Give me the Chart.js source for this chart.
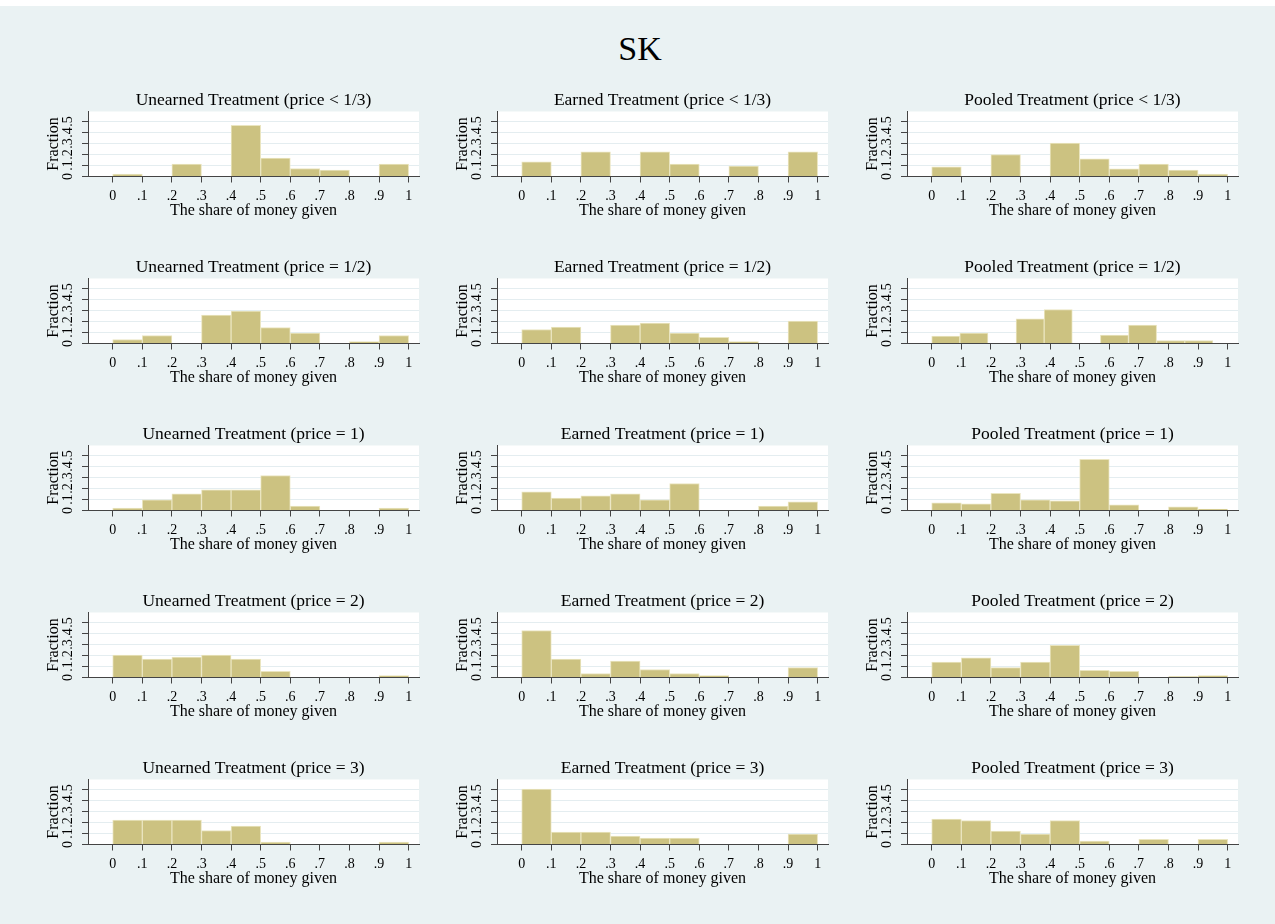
<!DOCTYPE html>
<html>
<head>
<meta charset="utf-8">
<title>SK</title>
<script src="https://cdn.jsdelivr.net/npm/chart.js@4.4.1/dist/chart.umd.min.js"></script>
<style>
  html, body { margin: 0; padding: 0; background: #ffffff; }
  body { position: relative; width: 1275px; height: 924px; overflow: hidden; }
  #bg { position: absolute; left: 0; top: 6px; width: 1275px; height: 918px; background: #eaf2f3; }
  #mainTitle { position: absolute; left: 0; width: 1280px; top: 31.5px; text-align: center;
               font: 34px/34px "Liberation Serif", "Times New Roman", serif; color: #000; }
  canvas { position: absolute; }
</style>
</head>
<body>
<div id="bg"></div>
<div id="mainTitle">SK</div>

<script>
// Panel headings
const treatments = ['Unearned Treatment', 'Earned Treatment', 'Pooled Treatment'];
const prices = ['< 1/3', '= 1/2', '= 1', '= 2', '= 3'];

// Histogram bin edges (share of money given)
const binEdges = [0, 0.1, 0.2, 0.3, 0.4, 0.5, 0.6, 0.7, 0.8, 0.9, 1.0];
const binEdgesPooledHalf = [0, 0.095, 0.19, 0.285, 0.38, 0.475, 0.57, 0.665, 0.76, 0.855, 0.95];

// Axis ticks
const xTickValues = [0, 0.1, 0.2, 0.3, 0.4, 0.5, 0.6, 0.7, 0.8, 0.9, 1];
const xTickLabels = ['0', '.1', '.2', '.3', '.4', '.5', '.6', '.7', '.8', '.9', '1'];
const yTickValues = [0, 0.1, 0.2, 0.3, 0.4, 0.5];
const yTickLabels = ['0', '.1', '.2', '.3', '.4', '.5'];

// Fractions per bin — Unearned
const unearnedThird = [0.021, 0, 0.112, 0, 0.464, 0.167, 0.073, 0.058, 0, 0.112];
const unearnedHalf  = [0.036, 0.073, 0, 0.258, 0.294, 0.145, 0.094, 0, 0.018, 0.073];
const unearnedOne   = [0.021, 0.097, 0.152, 0.188, 0.188, 0.318, 0.039, 0, 0, 0.021];
const unearnedTwo   = [0.203, 0.167, 0.185, 0.203, 0.167, 0.055, 0, 0, 0, 0.018];
const unearnedThree = [0.221, 0.221, 0.221, 0.127, 0.167, 0.021, 0, 0, 0, 0.021];

// Fractions per bin — Earned
const earnedThird = [0.133, 0, 0.224, 0, 0.224, 0.112, 0, 0.094, 0, 0.224];
const earnedHalf  = [0.127, 0.148, 0, 0.167, 0.185, 0.094, 0.055, 0.018, 0, 0.203];
const earnedOne   = [0.170, 0.112, 0.133, 0.152, 0.097, 0.245, 0, 0, 0.039, 0.079];
const earnedTwo   = [0.427, 0.167, 0.036, 0.148, 0.073, 0.036, 0.018, 0, 0, 0.091];
const earnedThree = [0.503, 0.112, 0.112, 0.076, 0.058, 0.058, 0, 0, 0, 0.094];

// Fractions per bin — Pooled
const pooledThird = [0.088, 0, 0.200, 0, 0.303, 0.160, 0.070, 0.112, 0.058, 0.021];
const pooledHalf  = [0.067, 0.094, 0, 0.224, 0.309, 0, 0.076, 0.167, 0.027, 0.027];
const pooledOne   = [0.070, 0.060, 0.155, 0.097, 0.088, 0.464, 0.052, 0, 0.033, 0.012];
const pooledTwo   = [0.139, 0.179, 0.091, 0.139, 0.291, 0.064, 0.055, 0, 0.009, 0.018];
const pooledThree = [0.230, 0.218, 0.121, 0.094, 0.218, 0.030, 0, 0.048, 0, 0.048];

// rows = price levels, columns = treatments
const panelValues = [
  [unearnedThird, earnedThird, pooledThird],
  [unearnedHalf,  earnedHalf,  pooledHalf],
  [unearnedOne,   earnedOne,   pooledOne],
  [unearnedTwo,   earnedTwo,   pooledTwo],
  [unearnedThree, earnedThree, pooledThree]
];
const panelEdges = [
  [binEdges, binEdges, binEdges],
  [binEdges, binEdges, binEdgesPooledHalf],
  [binEdges, binEdges, binEdges],
  [binEdges, binEdges, binEdges],
  [binEdges, binEdges, binEdges]
];

const SERIF = '"Liberation Serif", "Times New Roman", serif';
const BAR = 'rgb(204,194,129)';
const BAR_EDGE = 'rgb(234,229,192)';
const AXIS = '#444444';
const GRID = '#e4edf0';

// Layout of the 5x3 grid of panels
const COL_LEFT = [36, 445, 855];
const ROW_TOP0 = 88, ROW_STEP = 167;
const CANVAS_W = 390, CANVAS_H = 134;

// white plot region behind the bars
const plotBackground = {
  id: 'plotBackground',
  beforeDraw(chart) {
    const { ctx, chartArea: a } = chart;
    ctx.save();
    ctx.fillStyle = '#ffffff';
    ctx.fillRect(a.left, a.top, a.right - a.left, a.bottom - a.top);
    ctx.restore();
  }
};

// vertical y tick labels, placed on the y scale's tick positions
const rotatedYLabels = {
  id: 'rotatedYLabels',
  afterDraw(chart) {
    const ys = chart.scales.y, ctx = chart.ctx;
    ctx.save();
    ctx.fillStyle = '#000';
    ctx.font = '14px ' + SERIF;
    ctx.textAlign = 'center';
    ctx.textBaseline = 'middle';
    yTickValues.forEach((v, i) => {
      const py = ys.getPixelForValue(v);
      ctx.save();
      ctx.translate(chart.chartArea.left - 19.5, py);
      ctx.rotate(-Math.PI / 2);
      ctx.fillText(yTickLabels[i], 0, 0);
      ctx.restore();
    });
    ctx.restore();
  }
};

function makePanel(canvas, titleText, edges, fractions) {
  const points = fractions.map((f, i) => ({ x: (edges[i] + edges[i + 1]) / 2, y: f }));
  return new Chart(canvas, {
    type: 'bar',
    data: {
      datasets: [{
        data: points,
        backgroundColor: BAR,
        borderColor: BAR_EDGE,
        borderWidth: 1,
        barPercentage: 1,
        categoryPercentage: 1
      }]
    },
    options: {
      responsive: false,
      animation: false,
      devicePixelRatio: 1,
      events: [],
      layout: { padding: { top: 3.5, right: 7, bottom: 0.5, left: 0 } },
      plugins: {
        legend: { display: false },
        tooltip: { enabled: false },
        title: {
          display: true,
          text: titleText,
          fullSize: false,
          color: '#000',
          font: { family: SERIF, size: 17.5, lineHeight: 1, weight: 'normal' },
          padding: { top: 0, bottom: 2.5 }
        }
      },
      scales: {
        x: {
          type: 'linear',
          min: -0.0835,
          max: 1.035,
          offset: false,
          z: 1,
          afterBuildTicks: s => { s.ticks = xTickValues.map(v => ({ value: v })); },
          afterFit: s => { s.height = 45; },
          ticks: {
            autoSkip: false, maxRotation: 0, minRotation: 0, padding: 7,
            color: '#000',
            font: { family: SERIF, size: 14, lineHeight: 1 },
            callback: (v, i) => xTickLabels[i]
          },
          grid: { drawOnChartArea: false, drawTicks: true, tickLength: 6, tickColor: AXIS, offset: false },
          border: { display: true, color: AXIS, width: 1 },
          title: {
            display: true, text: 'The share of money given', color: '#000',
            font: { family: SERIF, size: 16, lineHeight: 1 },
            padding: { top: 0, bottom: 3 }
          }
        },
        y: {
          min: 0,
          max: 0.59,
          afterBuildTicks: s => { s.ticks = yTickValues.map(v => ({ value: v })); },
          afterFit: s => { s.width = 52; },
          ticks: { display: false },
          grid: {
            color: c => (c.tick && c.tick.value === 0) ? 'rgba(0,0,0,0)' : GRID,
            lineWidth: 1,
            drawTicks: true,
            tickLength: 6,
            tickColor: AXIS
          },
          border: { display: true, color: AXIS, width: 1 },
          title: {
            display: true, text: 'Fraction', color: '#000',
            font: { family: SERIF, size: 16, lineHeight: 1 },
            padding: { top: 10, bottom: 0 }
          }
        }
      }
    },
    plugins: [plotBackground, rotatedYLabels]
  });
}

for (let r = 0; r < prices.length; r++) {
  for (let c = 0; c < treatments.length; c++) {
    const cv = document.createElement('canvas');
    cv.width = CANVAS_W;
    cv.height = CANVAS_H;
    cv.style.left = COL_LEFT[c] + 'px';
    cv.style.top = (ROW_TOP0 + r * ROW_STEP) + 'px';
    cv.style.width = CANVAS_W + 'px';
    cv.style.height = CANVAS_H + 'px';
    document.body.appendChild(cv);
    makePanel(cv, treatments[c] + ' (price ' + prices[r] + ')', panelEdges[r][c], panelValues[r][c]);
  }
}
</script>
</body>
</html>
